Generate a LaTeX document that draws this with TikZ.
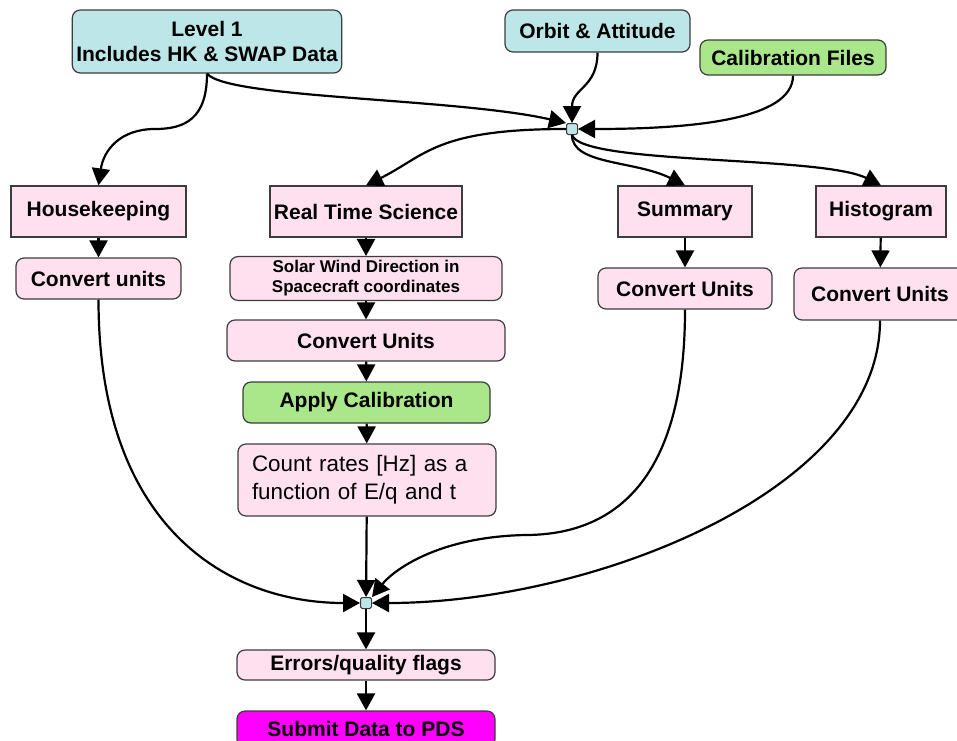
\documentclass[tikz,border=0pt]{standalone}
\usepackage{fontspec}
\setmainfont{Liberation Sans}
\definecolor{lvlcyan}{RGB}{188, 230, 232}
\definecolor{calgreen}{RGB}{170, 230, 138}
\definecolor{procpink}{RGB}{255, 224, 238}
\definecolor{pdsmag}{RGB}{255, 0, 255}
\definecolor{edgegray}{RGB}{60, 60, 60}
\usetikzlibrary{arrows.meta, positioning}

\begin{document}
\begin{tikzpicture}[x=0.5pt, y=-0.5pt,
  box/.style={draw=edgegray, line width=0.6pt, fill=procpink, inner sep=2pt,
              font=\fontsize{10.5}{12.5}\selectfont\bfseries, align=center},
  rbox/.style={box, rounded corners=4pt},
  junc/.style={draw=edgegray, line width=0.5pt, fill=lvlcyan, rounded corners=0.8pt,
               minimum size=5.5pt, inner sep=0pt},
  arr/.style={-{Triangle[length=8.5pt, width=9pt]}, line width=1.1pt},
]
\useasboundingbox (0,0) rectangle (957,740);

% Inputs along the top
\node[rbox, fill=lvlcyan, minimum width=134pt, minimum height=31.5pt] (lvl) at (207,41.5)
     {Level 1\\Includes HK \& SWAP Data};
\node[rbox, fill=lvlcyan, minimum width=92.5pt, minimum height=21pt] (orbit) at (597.5,31)
     {Orbit \& Attitude};
\node[rbox, fill=calgreen, minimum width=93pt, minimum height=17.5pt] (cal) at (793,57.5)
     {Calibration Files};

% Merge points
\node[junc] (jtop) at (572,129) {};
\node[junc] (jbot) at (366,603) {};

% Data products
\node[box, minimum width=87.5pt, minimum height=25.5pt] (hk) at (98.5,211.5) {Housekeeping};
\node[box, minimum width=93pt, minimum height=25.5pt] (rts) at (366,211.5) {Real Time Science};
\node[box, minimum width=67pt, minimum height=25.5pt] (sum) at (685,211.5) {Summary};
\node[box, minimum width=65pt, minimum height=25.5pt] (hist) at (881,211.5) {Histogram};

% Processing steps
\node[rbox, minimum width=82.5pt, minimum height=20.5pt] (hkcu) at (98.5,278.5) {Convert units};
\node[rbox, minimum width=136pt, minimum height=20.5pt,
      font=\fontsize{8.5}{10}\selectfont\bfseries] (solar) at (366,278.5)
     {Solar Wind Direction in\\Spacecraft coordinates};
\node[rbox, minimum width=139pt, minimum height=20.5pt] (rtscu) at (366,340.5) {Convert Units};
\node[rbox, fill=calgreen, minimum width=123.5pt, minimum height=20.5pt] (apply) at (366.5,402.5)
     {Apply Calibration};
\node[rbox, minimum width=129pt, minimum height=36pt, text width=115pt, align=left,
      font=\fontsize{11.2}{14}\selectfont] (count) at (367,480)
     {Count rates [Hz] as a\\function of E/q and t};
\node[rbox, minimum width=87pt, minimum height=20.5pt] (sumcu) at (685,288.5) {Convert Units};
\node[rbox, minimum width=86pt, minimum height=26pt] (histcu) at (880,294) {Convert Units};

% Output
\node[rbox, minimum width=129pt, minimum height=15pt] (err) at (366,665) {Errors/quality flags};
\node[rbox, fill=pdsmag, minimum width=129pt, minimum height=18pt] (pds) at (366,729)
     {Submit Data to PDS};

% Into the top merge point
\draw[arr] (lvl.south) .. controls +(0,45) and +(30,0) .. (155,129)
                        .. controls +(-35,0) and +(5,-35) .. (hk.north);
\draw[arr] (lvl.south) .. controls +(20,25) and +(-110,-25) .. (jtop.north west);
\draw[arr] (orbit.south) .. controls +(0,35) and +(0,-35) .. (jtop.north);
\draw[arr] (cal.south) .. controls +(0,45) and +(110,0) .. (jtop.east);

% Out of the top merge point
\draw[arr] (jtop.west) .. controls +(-130,0) and +(60,-30) .. (rts.north);
\draw[arr] (jtop.south) .. controls +(0,30) and +(-50,-25) .. (sum.north);
\draw[arr] (jtop.south) .. controls +(10,30) and +(-60,-30) .. (hist.north);

% Straight steps
\draw[arr] (hk) -- (hkcu);
\draw[arr] (rts) -- (solar);
\draw[arr] (solar) -- (rtscu);
\draw[arr] (rtscu) -- (apply);
\draw[arr] (apply) -- (count);
\draw[arr] (sum) -- (sumcu);
\draw[arr] (hist) -- (histcu);

% Into the bottom merge point
\draw[arr] (hkcu.south) .. controls +(0,230) and +(-130,0) .. (jbot.west);
\draw[arr] (count) -- (jbot);
\draw[arr] (sumcu.south) .. controls +(0,170) and +(90,0) .. (525,535)
                          .. controls +(-90,2) and +(20,-25) .. (jbot.north east);
\draw[arr] (histcu.south) .. controls +(0,170) and +(220,0) .. (jbot.east);

% Final steps
\draw[arr] (jbot) -- (err);
\draw[arr] (err) -- (pds);
\end{tikzpicture}
\end{document}
